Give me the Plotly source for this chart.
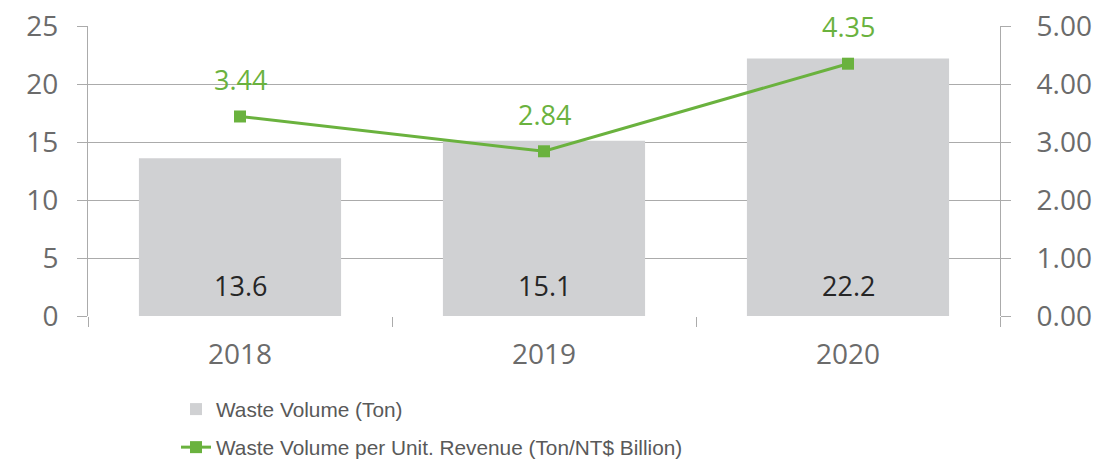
import plotly.graph_objects as go

years = ["2018", "2019", "2020"]
waste_volume = [13.6, 15.1, 22.2]
waste_per_revenue = [3.44, 2.84, 4.35]
bar_name = "Waste Volume (Ton)"
line_name = "Waste Volume per Unit. Revenue (Ton/NT$ Billion)"

GRID = "#ABABAB"
TICKFONT = dict(family="Open Sans", size=28, color="#6B6B6B")
GREEN = "#6AB23E"

fig = go.Figure()
fig.add_trace(go.Bar(
    x=years, y=waste_volume, name=bar_name, marker=dict(color="#D0D1D3", line=dict(width=0)),
    width=0.665, yaxis="y", legendgroup="a",
))
fig.add_trace(go.Scatter(
    x=years, y=waste_per_revenue, name=line_name, mode="lines+markers",
    line=dict(color=GREEN, width=3), marker=dict(symbol="square", size=12, color=GREEN),
    yaxis="y2", legendgroup="b",
))

annotations = []
for i, v in enumerate(waste_volume):
    annotations.append(dict(x=i, y=0, xref="x", yref="y", text=f"{v:.1f}", showarrow=False,
                            yshift=31, font=dict(family="Open Sans", size=27, color="#262626")))
for i, v in enumerate(waste_per_revenue):
    annotations.append(dict(x=i, y=v, xref="x", yref="y2", text=f"{v:.2f}", showarrow=False,
                            yshift=37, font=dict(family="Open Sans", size=27, color=GREEN)))

fig.update_layout(
    width=1105, height=463,
    margin=dict(l=88, r=105, t=26, b=147, autoexpand=False),
    plot_bgcolor="white", paper_bgcolor="white",
    bargap=0.335,
    annotations=annotations,
    showlegend=True,
    legend=dict(x=0.0965, y=-0.252, xanchor="left", yanchor="top", orientation="v",
                font=dict(family="Liberation Sans", size=20.8, color="#595959"),
                tracegroupgap=8, bgcolor="rgba(0,0,0,0)"),
    xaxis=dict(type="category", range=[-0.5, 2.5], tickson="boundaries", ticks="outside", ticklen=10,
               tickcolor=GRID, tickwidth=1, showline=False, showgrid=False,
               tickfont=TICKFONT, ticklabelstandoff=19, tickangle=0),
    yaxis=dict(range=[0, 25], dtick=5, showgrid=True, gridcolor=GRID, gridwidth=1,
               showline=True, linecolor=GRID, linewidth=1, ticks="outside", ticklen=10,
               tickcolor=GRID, tickfont=TICKFONT, ticklabelstandoff=13, zeroline=False),
    yaxis2=dict(range=[0, 5], dtick=1, tickformat=".2f", overlaying="y", side="right",
                showgrid=False, showline=True, linecolor=GRID, linewidth=1, ticks="outside",
                ticklen=10, tickcolor=GRID, tickfont=TICKFONT, ticklabelstandoff=20,
                zeroline=False),
)

fig.write_html("out.html", config={"displayModeBar": False},
               post_script="document.body.style.margin='0';")
